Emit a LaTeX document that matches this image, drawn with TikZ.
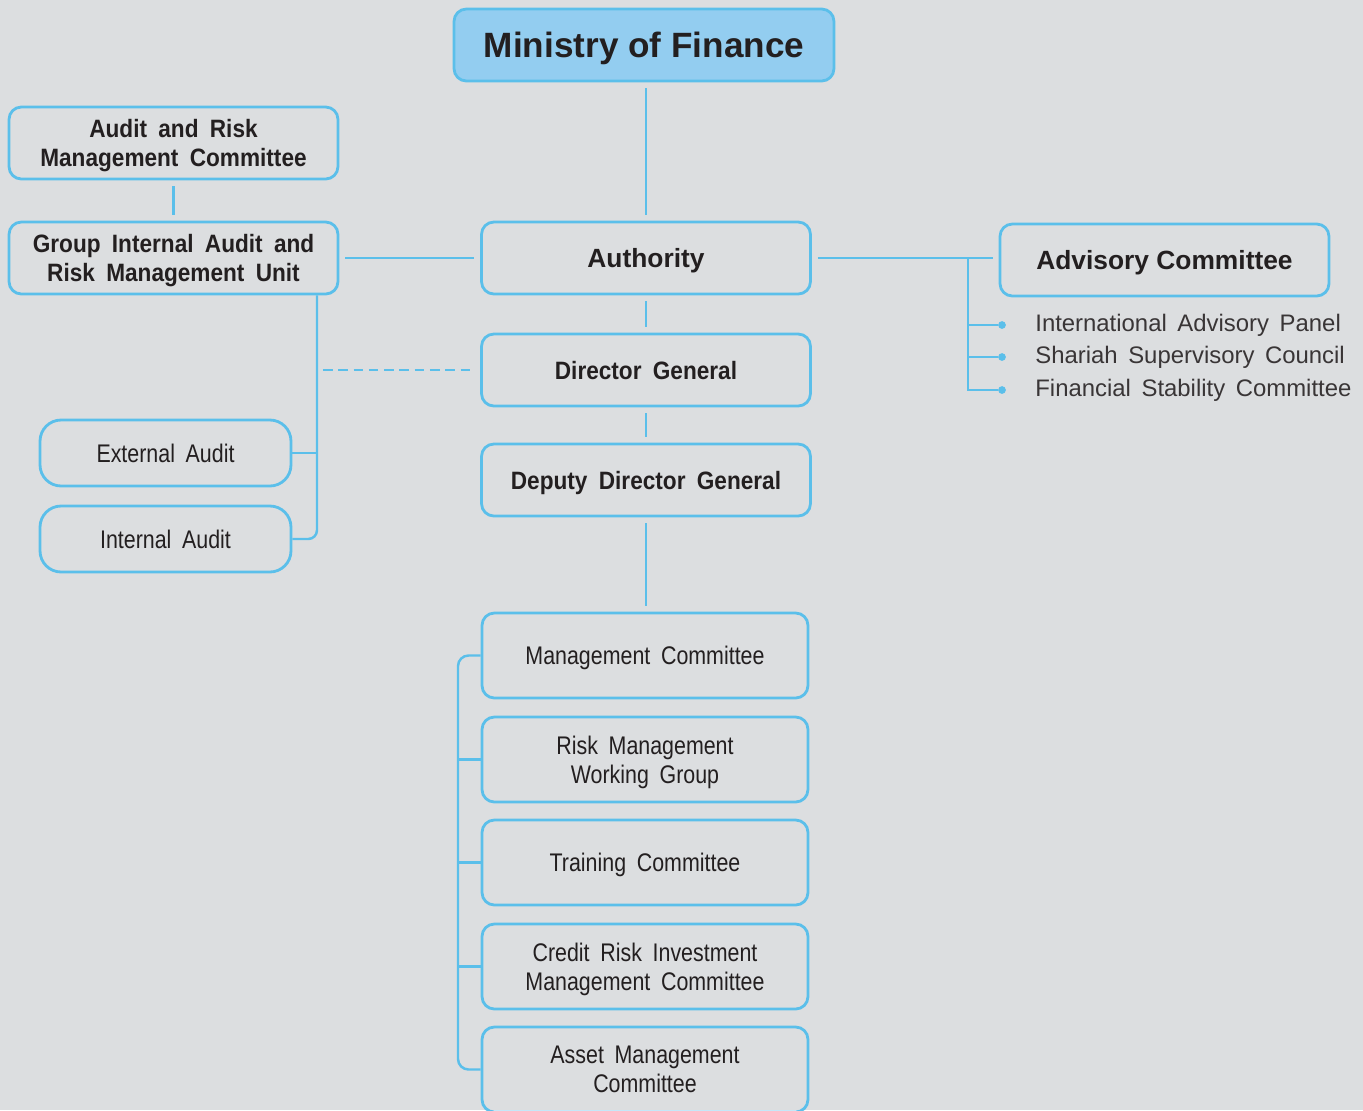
\documentclass[tikz,border=0pt]{standalone}
\usepackage{fontspec}
\setmainfont{Liberation Sans}
\newfontfamily\condbf[FakeStretch=0.9,WordSpace=1.8]{Liberation Sans Bold}
\newfontfamily\condrg[FakeStretch=0.84,WordSpace=1.8]{Liberation Sans}
\newfontfamily\listfont[WordSpace=1.6]{Liberation Sans}
\definecolor{bggray}{HTML}{DCDEE0}
\definecolor{lineblue}{HTML}{5BBFEA}
\definecolor{fillblue}{HTML}{93CDF0}
\definecolor{inkgray}{HTML}{231F20}
\tikzset{
  box/.style={draw=lineblue, line width=1.6pt, rounded corners=7pt, align=center, inner sep=0pt, text depth=0pt, text=inkgray},
  minbox/.style={box, fill=fillblue, minimum width=7.6cm, minimum height=1.44cm, font=\fontsize{20}{24}\selectfont\bfseries},
  headbox/.style={box, minimum width=6.58cm, minimum height=1.44cm, font=\fontsize{15}{18}\selectfont\bfseries},
  unitbox/.style={box, minimum width=6.58cm, minimum height=1.44cm, font=\fontsize{14.3}{16.4}\selectfont\condbf},
  commbox/.style={box, minimum width=6.52cm, minimum height=1.7cm, font=\fontsize{14.5}{16.6}\selectfont\condrg},
  auditbox/.style={box, rounded corners=12pt, minimum width=5.02cm, minimum height=1.32cm, font=\fontsize{14.5}{16.6}\selectfont\condrg},
  listitem/.style={inner sep=0pt, anchor=west, text=inkgray!90, font=\fontsize{13.6}{16}\selectfont\listfont},
  bullet/.style={circle, fill=lineblue, inner sep=0pt, minimum size=4.4pt},
  link/.style={draw=lineblue, line width=1.4pt},
  gap/.style={shorten <=3.4pt, shorten >=3.4pt}
}
\newcommand{\drawmin}{\node[minbox]}
\newcommand{\drawhead}{\node[headbox]}
\newcommand{\drawunit}{\node[unitbox]}
\newcommand{\drawcomm}{\node[commbox]}
\newcommand{\drawaudit}{\node[auditbox]}
\begin{document}
\begin{tikzpicture}[x=0.02cm, y=-0.02cm]
%background and page frame
\fill[bggray] (0,0) rectangle (1363,1110);
\useasboundingbox (0,0) rectangle (1363,1110);
\clip (0,0) rectangle (1363,1110);

\drawmin (mof) at (644,45) {Ministry of Finance};
\drawhead (auth) at (646,258) {Authority};
\drawunit (dg) at (646,370) {Director General};
\drawunit (ddg) at (646,480) {Deputy Director General};
\drawcomm (mc) at (645,655.5) {Management Committee};
\drawcomm (rmwg) at (645,759.5) {Risk Management\\Working Group};
\drawcomm (tc) at (645,862.5) {Training Committee};
\drawcomm (crim) at (645,966.5) {Credit Risk Investment\\Management Committee};
\drawcomm (amc) at (645,1069.5) {Asset Management\\Committee};
\drawunit (arm) at (173.5,143) {Audit and Risk\\Management Committee};
\drawunit (giarm) at (173.5,258) {Group Internal Audit and\\Risk Management Unit};
\drawaudit (ext) at (165.5,453) {External Audit};
\drawaudit (int) at (165.5,539) {Internal Audit};
\drawhead (adv) at (1164.5,260) {Advisory Committee};

\coordinate (advbus) at (968,258);
\coordinate (leftbus) at (317,0);
\coordinate (lowbus) at (458,0);

%main column
\draw[link, gap] (auth.north |- mof.south) -- (auth.north);
\draw[link, gap] (auth) -- (dg);
\draw[link, gap] (dg) -- (ddg);
\draw[link, gap] (ddg.south) -- (ddg.south |- mc.north);
\draw[link, gap] (giarm.east) -- (auth.west);
\draw[link, gap] (auth.east) -- (auth.east -| adv.west);
\draw[link, gap] (arm) -- (giarm);

%audit branch
\draw[link, rounded corners=5pt] (giarm.south -| leftbus) |- (int.east);
\draw[link] (ext.east) -- (ext.east -| leftbus);
\draw[link, gap, dash pattern=on 5.5pt off 3.2pt] (dg.west -| leftbus) -- (dg.west);

%committees under the deputy
\draw[link, rounded corners=6pt] (mc.west) -- (mc.west -| lowbus) -- (amc.west -| lowbus) -- (amc.west);
\foreach \nm in {rmwg,tc,crim}
  \draw[link] (\nm.west) -- (\nm.west -| lowbus);

%advisory list
\foreach \yy/\nm/\txt in {325/iap/International Advisory Panel, 357/ssc/Shariah Supervisory Council, 390/fsc/Financial Stability Committee}{
  \node[listitem] (\nm) at (1035,\yy) {\txt};
  \node[bullet] (\nm dot) at (1002,\yy) {};
  \draw[link] (advbus) |- (\nm dot);
}
\end{tikzpicture}
\end{document}
